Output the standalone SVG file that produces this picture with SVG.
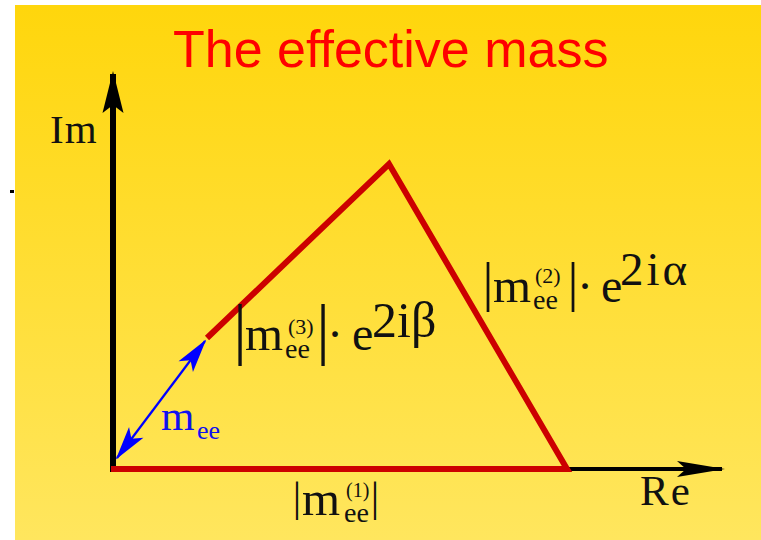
<svg xmlns="http://www.w3.org/2000/svg" width="761" height="540" viewBox="0 0 761 540">
  <defs>
    <linearGradient id="bg" x1="0" y1="0" x2="0" y2="1">
      <stop offset="0" stop-color="#FFD60C"/>
      <stop offset="1" stop-color="#FFE65E"/>
    </linearGradient>
    <marker id="arrY" markerUnits="userSpaceOnUse" markerWidth="50" markerHeight="30" viewBox="-45 -15 50 30" refX="-3" refY="0" orient="auto">
      <path d="M0,0 L-42,-10.5 L-34,0 L-42,10.5 Z" fill="#000"/>
    </marker>
    <marker id="arrX" markerUnits="userSpaceOnUse" markerWidth="56" markerHeight="24" viewBox="-51 -12 56 24" refX="-3" refY="0" orient="auto">
      <path d="M0,0 L-48,-8 L-39,0 L-48,8 Z" fill="#000"/>
    </marker>
    <marker id="arrB" markerUnits="userSpaceOnUse" markerWidth="44" markerHeight="24" viewBox="-38 -12 44 24" refX="-2" refY="0" orient="auto-start-reverse">
      <path d="M0,0 L-34,-9 L-26,0 L-34,9 Z" fill="#0000FF"/>
    </marker>
    <style>
      .serif { font-family: "Liberation Serif", "Times New Roman", serif; fill: #111; }
      .blue { fill: #1010F0; }
      .title { font-family: "Liberation Sans", Arial, sans-serif; font-size: 52px; fill: #FF0000; }
      .red { fill: none; stroke: #CC0000; stroke-width: 6; stroke-linejoin: miter; stroke-miterlimit: 10; }
    </style>
  </defs>

  <rect x="15" y="5" width="746" height="535" fill="url(#bg)"/>
  <rect x="10" y="190" width="4" height="3" fill="#000"/>

  <g id="title">
    <text class="title" x="173" y="67">The effective mass</text>
  </g>

  <g id="connectors">
    <line id="im-axis" x1="113" y1="472" x2="113" y2="74" stroke="#000" stroke-width="6" marker-end="url(#arrY)"/>
    <line id="re-axis" x1="113" y1="469" x2="722" y2="469" stroke="#000" stroke-width="4" marker-end="url(#arrX)"/>
    <polyline id="triangle" class="red" points="207,338 389,164 567,469 111,469"/>
    <line id="mee-arrow" x1="117" y1="458" x2="205" y2="341" stroke="#0000FF" stroke-width="2.2" marker-start="url(#arrB)" marker-end="url(#arrB)"/>
  </g>

  <g id="label-im">
    <text class="serif" x="50" y="143" font-size="41" letter-spacing="1">Im</text>
  </g>
  <g id="label-re">
    <text class="serif" x="640" y="505" font-size="43" letter-spacing="2">Re</text>
  </g>

  <g id="label-mee">
    <text class="serif blue"><tspan x="161" y="430" font-size="43">m</tspan><tspan x="197" y="439" font-size="26">ee</tspan></text>
  </g>

  <g id="label-m3">
    <text class="serif"><tspan x="240" y="352" font-size="68" text-anchor="middle">|</tspan><tspan x="245" y="350" font-size="49">m</tspan><tspan x="288" y="334" font-size="22">(3)</tspan><tspan x="285" y="358" font-size="28">ee</tspan><tspan x="323" y="352" font-size="68" text-anchor="middle">|</tspan><tspan x="335" y="350" font-size="48" text-anchor="middle">·</tspan><tspan x="352" y="350" font-size="48">e</tspan><tspan x="372" y="337" font-size="50">2iβ</tspan></text>
  </g>

  <g id="label-m2">
    <text class="serif"><tspan x="488" y="300" font-size="55" text-anchor="middle">|</tspan><tspan x="493" y="302" font-size="49">m</tspan><tspan x="535" y="283" font-size="22">(2)</tspan><tspan x="533" y="309" font-size="28">ee</tspan><tspan x="573" y="300" font-size="55" text-anchor="middle">|</tspan><tspan x="585" y="302" font-size="48" text-anchor="middle">·</tspan><tspan x="601" y="302" font-size="48">e</tspan><tspan x="620" y="285" font-size="47" letter-spacing="3">2iα</tspan></text>
  </g>

  <g id="label-m1">
    <text class="serif"><tspan x="297" y="511" font-size="42" text-anchor="middle">|</tspan><tspan x="302" y="515" font-size="49">m</tspan><tspan x="346" y="497" font-size="20">(1)</tspan><tspan x="344" y="522" font-size="28">ee</tspan><tspan x="375" y="511" font-size="42" text-anchor="middle">|</tspan></text>
  </g>
</svg>
